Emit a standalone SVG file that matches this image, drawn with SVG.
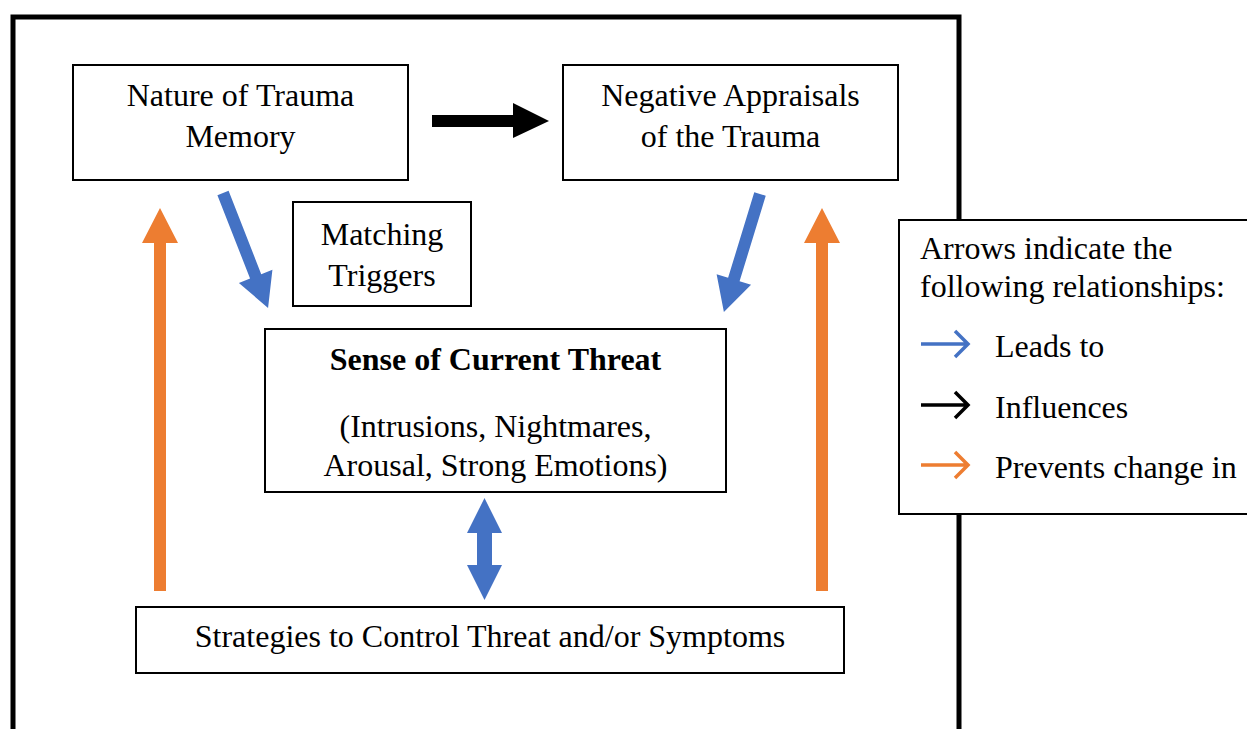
<svg xmlns="http://www.w3.org/2000/svg" width="1247" height="729" viewBox="0 0 1247 729">
<style>
.box{fill:#fff;stroke:#000;stroke-width:2}
.t{font-family:"Liberation Serif","Times New Roman",serif;font-size:32px;fill:#000}
.c{text-anchor:middle}
.b{font-weight:bold}
.blue{fill:#4472C4}
.orange{fill:#ED7D31}
.black{fill:#000}
.lg{fill:none;stroke-width:3.5;stroke-linecap:butt}
</style>
<rect width="1247" height="729" fill="#fff"/>
<path d="M13,729 V17 H959 V729" fill="none" stroke="#000" stroke-width="5"/>
<g id="nature">
<rect class="box" x="73" y="65" width="335" height="115"/>
<text class="t c" x="240.5" y="106">Nature of Trauma</text>
<text class="t c" x="240.5" y="147">Memory</text>
</g>
<g id="negative">
<rect class="box" x="563" y="65" width="335" height="115"/>
<text class="t c" x="730.5" y="106">Negative Appraisals</text>
<text class="t c" x="730.5" y="147">of the Trauma</text>
</g>
<g id="triggers">
<rect class="box" x="293" y="202" width="178" height="104"/>
<text class="t c" x="382" y="245">Matching</text>
<text class="t c" x="382" y="286">Triggers</text>
</g>
<g id="threat">
<rect class="box" x="265" y="329" width="461" height="163"/>
<text class="t c b" x="495.5" y="370">Sense of Current Threat</text>
<text class="t c" x="495.5" y="437">(Intrusions, Nightmares,</text>
<text class="t c" x="495.5" y="476">Arousal, Strong Emotions)</text>
</g>
<g id="strategies">
<rect class="box" x="136" y="607" width="708" height="66"/>
<text class="t c" x="490" y="647">Strategies to Control Threat and/or Symptoms</text>
</g>
<g id="connectors">
<polygon class="black" points="432,115 513,115 513,103 549,121 513,138 513,127 432,127"/>
<polygon class="blue" points="0,-6 89.5,-6 89.5,-18 123.5,0 89.5,18 89.5,6 0,6" transform="translate(223,193) rotate(68.6)"/>
<polygon class="blue" points="0,-6 89.5,-6 89.5,-18 123.5,0 89.5,18 89.5,6 0,6" transform="translate(760,194) rotate(107)"/>
<polygon class="orange" points="154,591 154,243 142,243 160,208 178,243 166,243 166,591"/>
<polygon class="orange" points="816,591 816,243 804,243 822,208 840,243 828,243 828,591"/>
<polygon class="blue" points="484.5,498 502,533 492,533 492,565 502,565 484.5,600 467,565 477,565 477,533 467,533"/>
</g>
<g id="legend">
<rect class="box" x="899" y="220" width="360" height="294"/>
<text class="t" x="920" y="259">Arrows indicate the</text>
<text class="t" x="920" y="297">following relationships:</text>
<path class="lg" stroke="#4472C4" d="M921,344 H968 M955,331 L968,344 L955,357"/>
<text class="t" x="995" y="357">Leads to</text>
<path class="lg" stroke="#000" d="M921,405 H968 M955,392 L968,405 L955,418"/>
<text class="t" x="995" y="418">Influences</text>
<path class="lg" stroke="#ED7D31" d="M921,465 H968 M955,452 L968,465 L955,478"/>
<text class="t" x="995" y="478">Prevents change in</text>
</g>
</svg>
